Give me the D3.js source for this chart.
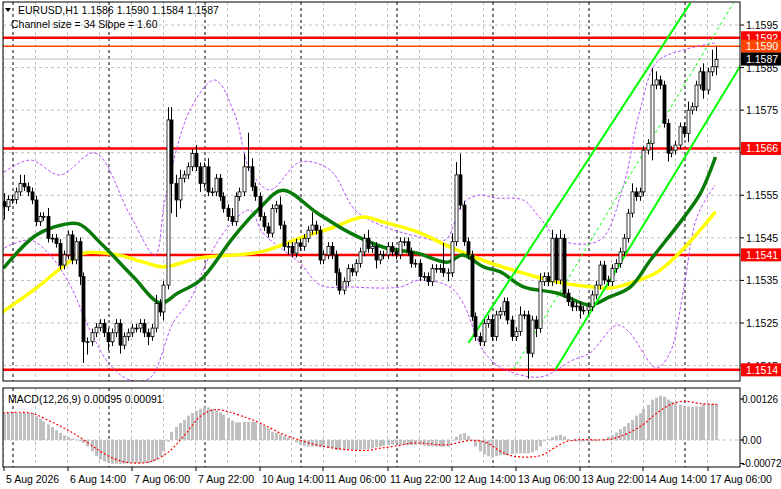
<!DOCTYPE html>
<html>
<head>
<meta charset="utf-8">
<script src="https://cdn.jsdelivr.net/npm/d3@7"></script>
<style>
  body { margin: 0; background: #fff; }
  text { font-family: "Liberation Sans", Arial, sans-serif; font-size: 10.5px; }
</style>
</head>
<body>
<svg id="chart" width="781" height="489"></svg>
<script>
// closes in pips above 1.1500, one per hourly bar (open = previous close)
const closePips = [
  52.3,54,54,55.8,57.8,57,55.8,53.9,48.8,50,
  50,44.9,44.9,43.7,38.6,41,45.7,39.8,44.1,35.9,
  20.6,20.6,22.7,24,24.9,22.7,20.6,22.7,24.9,19.8,
  21.8,22.7,23.8,23.8,24.9,22.7,21.8,23.8,29.6,27.6,
  33.9,72.7,57.8,53.9,59,59.8,61.7,64.8,61.7,57.8,
  61.7,55.8,55.8,59,54.7,51.9,50,48.8,54.7,55.8,
  61.7,61.7,57,54.7,50,47.6,46.1,51.9,52.7,48,
  43,43,41.4,43.8,43,44.9,46.8,48,46.8,39.8,
  41,43,41,36.8,32.7,34.7,37.8,37,39,41.7,
  44.9,42.5,43,39.8,41,41,43,41.7,41,44.1,
  44.1,41.7,39,39,35.9,35.9,34.7,37.8,37.8,37.8,
  36.8,36.8,44.1,59.8,52.7,44.1,41,26.5,21.8,20.6,
  24.9,25.8,21.8,26.9,27.7,30,25.7,21.8,23,26.9,
  26.9,17.9,25.7,23.7,34.7,35.9,34.7,44.9,35.1,44.9,
  32,30,28.8,29,28,28,28.8,31.6,33.9,38.6,
  35.1,34.7,37.8,39,41.7,44.9,50.8,55.8,54.7,55.8,
  65.6,67.2,80.9,82.1,80.9,71.9,64.9,65.6,66.8,71.1,
  69.5,75,75.8,80.9,84,79.7,84,85.2,86.9
];
const firstOpenPips = 53.5;
const wickUp = [
  2,1,1,1,2,2,1,1,1,1, 1,2,1,1,1,1,1,1,1,1, 1,1,1,1,1,1,1,1,1,1, 1,1,1,1,1,1,1,1,2,1,
  1,3,3,2,2,1,1,1,2,1, 1,2,1,1,1,1,1,2,1,1, 3,8,2,1,1,1,1,1,1,2, 1,1,1,1,1,1,1,3,1,1,
  1,1,1,1,1,1,1,1,1,1, 1,2,1,1,1,1,1,1,1,1, 1,1,1,1,1,1,1,1,1,1, 6,1,2,3,5,1,1,1,1,1,
  1,1,1,1,1,1,1,1,1,2, 1,1,1,1,2,1,1,2,1,2, 1,1,1,1,1,1,1,1,1,1, 1,1,1,1,1,1,1,2,1,1,
  1,1,4,2,1,1,1,1,1,1, 1,2,1,1,1,2,1,4,3
];
const wickDn = [
  3,1,1,1,1,1,1,1,1,1, 1,1,1,1,1,1,1,1,1,2, 5,3,1,1,1,1,2,1,1,2, 1,1,1,1,1,1,2,1,1,1,
  2,1,7,4,2,1,1,1,1,2, 1,1,1,1,1,1,1,1,1,1, 1,1,1,1,1,1,1,1,1,1, 1,2,1,1,1,1,1,1,1,1,
  1,1,1,3,1,1,1,1,1,1, 1,1,1,2,1,1,1,1,1,1, 1,1,1,1,1,1,1,1,1,1, 1,2,1,1,1,1,1,1,1,1,
  1,1,1,1,1,1,1,1,1,1, 1,6,1,2,1,1,1,1,1,1, 1,1,1,1,2,1,1,1,1,1, 1,1,1,1,1,1,1,1,1,1,
  1,1,4,1,1,1,2,1,1,1, 1,2,1,1,1,2,1,1,2
];

// moving averages: [bar, pips]
const maFast = [[0,37.9],[7.5,45.2],[12.5,47.5],[18.75,48.3],[24.25,43.8],[32.5,35.8],[39.25,29.7],[43.5,32],[49.25,35.1],[57.5,45.2],[64.25,52.2],[69.75,56.2],[78.5,50.8],[86.75,46.1],[95,42.8],[103.5,41.4],[111,39.3],[114.75,41],[120,38.2],[124.25,37],[130,33.5],[138.5,32],[146.75,29.2],[151,30.9],[156.75,33.5],[161.75,39.8],[170,49.7],[174.25,55.5],[178,64]];
const maSlow = [[-0.75,27.3],[7.5,32.7],[16,39.1],[20,41.4],[28.5,41],[35,39.3],[40,38.2],[49.25,40.3],[64.25,41.7],[74.25,45],[82.5,47.5],[90,49.9],[95,48.7],[103.5,46.4],[111.75,42.8],[121.75,39.1],[130,36.7],[138.5,34.6],[146.75,33.5],[151.75,33.2],[156.75,34.4],[163.5,37],[168.5,41],[173.5,46.1],[178,51.1]];
// envelopes in pixels: [x, y]
const bandUpperPx = [[0,175],[30,160],[60,175],[95,153],[130,215],[155,255],[165,200],[190,110],[215,80],[235,115],[250,170],[270,190],[300,162],[330,170],[355,210],[380,225],[420,237],[445,240],[463,203],[480,195],[495,198],[523,200],[540,218],[560,240],[600,240],[623,187],[640,110],[657,62],[683,50],[715,43]];
const bandLowerPx = [[0,250],[30,240],[50,255],[70,285],[90,330],[110,365],[130,380],[150,378],[173,323],[190,300],[210,255],[230,225],[250,210],[263,233],[300,263],[320,285],[350,287],[400,287],[420,280],[450,287],[463,303],[483,350],[500,367],[540,377],[573,360],[590,353],[617,325],[630,333],[650,363],[657,368],[670,353],[683,293],[697,217],[715,185]];
// regression channel: [bar, pips] endpoints
const channelLines = [
  { pts: [[116.25,20.3],[171.75,100.2]], dash: null, w: 2 },
  { pts: [[127.5,14.1],[182.5,100.2]], dash: "3,3", w: 1 },
  { pts: [[138,14.1],[184.25,85.4]], dash: null, w: 2 }
];
const levels = [
  { p: 1.1592, color: "#ff0000", w: 2.5 },
  { p: 1.1590, color: "#ff4500", w: 1.5 },
  { p: 1.1566, color: "#ff0000", w: 2.5 },
  { p: 1.1541, color: "#ff0000", w: 2.5 },
  { p: 1.1514, color: "#ff0000", w: 2.5 }
];
const priceTicks = [1.1515,1.1525,1.1535,1.1545,1.1555,1.1565,1.1575,1.1585,1.1595];
const timeLabels = ["5 Aug 2026","6 Aug 14:00","7 Aug 06:00","7 Aug 22:00","10 Aug 14:00","11 Aug 06:00","11 Aug 22:00","12 Aug 14:00","13 Aug 06:00","13 Aug 22:00","14 Aug 14:00","17 Aug 06:00"];

// MACD histogram in 1e-5 units, one per bar
const macdHist = [
  83,83,83,83,83,83,83,83,73,66, 57,48,40,30,22,14,9,4,0,-4, -9,-20,-35,-50,-60,-66,-69,-73,-73,-73,
  -73,-71,-71,-71,-71,-71,-71,-68,-62,-50, -35,-5,25,40,52,62,75,83,90,96, 101,100,96,91,85,78,68,60,54,54,
  56,56,56,56,50,44,35,25,22,18, 12,8,2,-8,-15,-18,-20,-20,-20,-20, -20,-24,-24,-30,-30,-30,-30,-30,-30,-30,
  -30,-28,-25,-22,-20,-18,-16,-14,-10,-15, -15,-15,-15,-15,-15,-18,-20,-20,-20,-20, -20,-20,-2,10,18,21,12,0,-20,-35,
  -45,-50,-54,-50,-46,-46,-46,-43,-41,-41, -41,-41,-38,-32,-20,-4,3,9,14,16, 11,3,-4,-4,-4,-4,-4,-4,-4,0,
  3,10,15,23,33,42,52,62,75,82, 96,108,124,130,136,133,124,118,113,108, 103,103,103,103,103,111,111,111,111
];
const macdSignal = [[-0.2,83],[6.75,83],[11.75,57],[15.9,32],[20,1],[24.25,-35],[28.4,-61],[32.6,-71],[36.75,-66],[40.9,-40],[45,11],[49.25,73],[52.6,93],[55.9,88],[59.25,75],[64.25,52],[69.25,21],[74.25,-1],[79.25,-18],[85.9,-30],[90.9,-32],[94.25,-25],[98.4,-18],[102.6,-9],[110.9,-15],[115.1,-4],[117.6,-1],[120.9,-9],[124.25,-35],[127.6,-50],[134.25,-48],[137.6,-25],[140.9,-4],[144.25,1],[150.9,1],[154.25,11],[159.25,42],[163.4,83],[166.75,109],[170,119],[174.25,112],[178.4,109]];

const svg = d3.select("#chart");
const L = 3, R = 740, T = 2, B = 381, MT = 388, MB = 467;
const toPrice = p => 1.15 + p / 10000;

const x = d3.scaleLinear().domain([0, 178]).range([3.5, 715.5]);
const y = d3.scaleLinear().domain([1.1525, 1.1595]).range([323, 25]);
const ym = d3.scaleLinear().domain([0, 126]).range([440, 399]);
const pxToBar = d3.scaleLinear().domain([3.5, 715.5]).range([0, 178]);

svg.append("clipPath").attr("id", "main").append("rect").attr("x", L).attr("y", T).attr("width", R - L).attr("height", B - T);
svg.append("clipPath").attr("id", "macd").append("rect").attr("x", L).attr("y", MT).attr("width", R - L).attr("height", MB - MT);

const g = svg.append("g").attr("clip-path", "url(#main)");
const gm = svg.append("g").attr("clip-path", "url(#macd)");

// grid
const vgrid = d3.range(0, 180, 8);
[g, gm].forEach((grp, k) => {
  const y0 = k ? MT : T, y1 = k ? MB : B;
  grp.selectAll(".vg").data(vgrid).join("line")
    .attr("x1", d => x(d)).attr("x2", d => x(d)).attr("y1", y0).attr("y2", y1)
    .attr("stroke", "#c0c0c0").attr("stroke-dasharray", "3,3");
  grp.selectAll(".sep").data(d3.range(2.25, 180, 24)).join("line")
    .attr("x1", d => Math.round(x(d))).attr("x2", d => Math.round(x(d))).attr("y1", y0).attr("y2", y1)
    .attr("stroke", "#000").attr("stroke-dasharray", "3,3");
});
g.selectAll(".hg").data(priceTicks).join("line")
  .attr("x1", L).attr("x2", R).attr("y1", d => y(d)).attr("y2", d => y(d))
  .attr("stroke", "#c0c0c0").attr("stroke-dasharray", "3,3");
gm.append("line").attr("x1", L).attr("x2", R).attr("y1", ym(0)).attr("y2", ym(0))
  .attr("stroke", "#c0c0c0").attr("stroke-dasharray", "3,3");

g.append("line").attr("x1", L).attr("x2", R).attr("y1", y(1.1587)).attr("y2", y(1.1587)).attr("stroke", "#c0c0c0");

g.selectAll(".lvl").data(levels).join("line")
  .attr("x1", L).attr("x2", R).attr("y1", d => y(d.p)).attr("y2", d => y(d.p))
  .attr("stroke", d => d.color).attr("stroke-width", d => d.w);

const pxLine = d3.line().x(d => d[0]).y(d => d[1]).curve(d3.curveCatmullRom);
[bandUpperPx, bandLowerPx].forEach(b => {
  g.append("path").attr("d", pxLine(b.map(d => [x(pxToBar(d[0])), y(y.invert(d[1]))])))
    .attr("fill", "none").attr("stroke", "#b84dff").attr("stroke-dasharray", "3,2");
});

const maLine = d3.line().x(d => x(d[0])).y(d => y(toPrice(d[1]))).curve(d3.curveCatmullRom);
g.append("path").attr("d", maLine(maSlow)).attr("fill", "none").attr("stroke", "#ffff00").attr("stroke-width", 3.5);
g.append("path").attr("d", maLine(maFast)).attr("fill", "none").attr("stroke", "#087a08").attr("stroke-width", 3.5);

channelLines.forEach(c => {
  g.append("line")
    .attr("x1", x(c.pts[0][0])).attr("y1", y(toPrice(c.pts[0][1])))
    .attr("x2", x(c.pts[1][0])).attr("y2", y(toPrice(c.pts[1][1])))
    .attr("stroke", "#00ff00").attr("stroke-width", c.w).attr("stroke-dasharray", c.dash);
});

// candles
const candles = closePips.map((c, i) => {
  const o = i ? closePips[i - 1] : firstOpenPips;
  return { i, o, c, h: Math.max(o, c) + wickUp[i], l: Math.min(o, c) - wickDn[i] };
});
const cg = g.selectAll(".candle").data(candles).join("g");
cg.append("line")
  .attr("x1", d => Math.round(x(d.i)) + 0.5).attr("x2", d => Math.round(x(d.i)) + 0.5)
  .attr("y1", d => y(toPrice(d.h))).attr("y2", d => y(toPrice(d.l)))
  .attr("stroke", "#000");
cg.append("rect")
  .attr("x", d => Math.round(x(d.i)) - 1)
  .attr("y", d => y(toPrice(Math.max(d.o, d.c))))
  .attr("width", 3)
  .attr("height", d => Math.max(0.8, y(toPrice(Math.min(d.o, d.c))) - y(toPrice(Math.max(d.o, d.c)))))
  .attr("fill", d => d.c >= d.o ? "#fff" : "#000")
  .attr("stroke", "#000").attr("stroke-width", 0.8);

// macd
gm.selectAll(".hb").data(macdHist).join("rect")
  .attr("x", (d, i) => Math.round(x(i)) - 1)
  .attr("y", d => Math.min(ym(d), ym(0)))
  .attr("width", 3)
  .attr("height", d => Math.abs(ym(d) - ym(0)))
  .attr("fill", "#c0c0c0");
gm.append("path")
  .attr("d", d3.line().x(d => x(d[0])).y(d => ym(d[1])).curve(d3.curveCatmullRom)(macdSignal))
  .attr("fill", "none").attr("stroke", "#ff0000").attr("stroke-width", 1.2).attr("stroke-dasharray", "2,2");

svg.append("rect").attr("x", L).attr("y", T).attr("width", R - L).attr("height", B - T).attr("fill", "none").attr("stroke", "#000");
svg.append("rect").attr("x", L).attr("y", MT).attr("width", R - L).attr("height", MB - MT).attr("fill", "none").attr("stroke", "#000");

// right axis (1.1565 sits under its level tag)
const ax = svg.append("g");
ax.selectAll(".pt").data(priceTicks).join("g").each(function (d) {
  const s = d3.select(this);
  s.append("line").attr("x1", R).attr("x2", R + 4).attr("y1", y(d)).attr("y2", y(d)).attr("stroke", "#000");
  if (d !== 1.1565) s.append("text").attr("x", R + 6).attr("y", y(d) + 4).text(d.toFixed(4));
});
const tags = [
  { p: 1.1592, bg: "#ff0000" }, { p: 1.1590, bg: "#ff4500" }, { p: 1.1587, bg: "#000" },
  { p: 1.1566, bg: "#ff0000" }, { p: 1.1541, bg: "#ff0000" }, { p: 1.1514, bg: "#ff0000" }
];
tags.forEach(t => {
  ax.append("rect").attr("x", R + 1).attr("y", y(t.p) - 6.5).attr("width", 40).attr("height", 13).attr("fill", t.bg);
  ax.append("text").attr("x", R + 6).attr("y", y(t.p) + 4).attr("fill", "#fff").text(t.p.toFixed(4));
});
[[126, "0.00126"], [0, "0.00"], [-72, "-0.00072"]].forEach(([v, s]) => {
  ax.append("line").attr("x1", R).attr("x2", R + 4).attr("y1", ym(v)).attr("y2", ym(v)).attr("stroke", "#000");
  ax.append("text").attr("x", R + 2).attr("y", ym(v) + 4).style("font-size", "10px").text(s);
});

timeLabels.forEach((t, k) => {
  const xx = Math.round(x(k * 16));
  ax.append("line").attr("x1", xx).attr("x2", xx).attr("y1", MB).attr("y2", MB + 4).attr("stroke", "#000");
  ax.append("text").attr("x", xx + 2).attr("y", 483).text(t);
});

svg.append("path").attr("d", "M5,8 L11,8 L8,12 Z").attr("fill", "#000");
svg.append("text").attr("x", 18).attr("y", 14).text("EURUSD,H1  1.1586 1.1590 1.1584 1.1587");
svg.append("text").attr("x", 11).attr("y", 28).text("Channel size = 34 Slope = 1.60");
svg.append("text").attr("x", 8).attr("y", 403).text("MACD(12,26,9) 0.00095 0.00091");
</script>
</body>
</html>
